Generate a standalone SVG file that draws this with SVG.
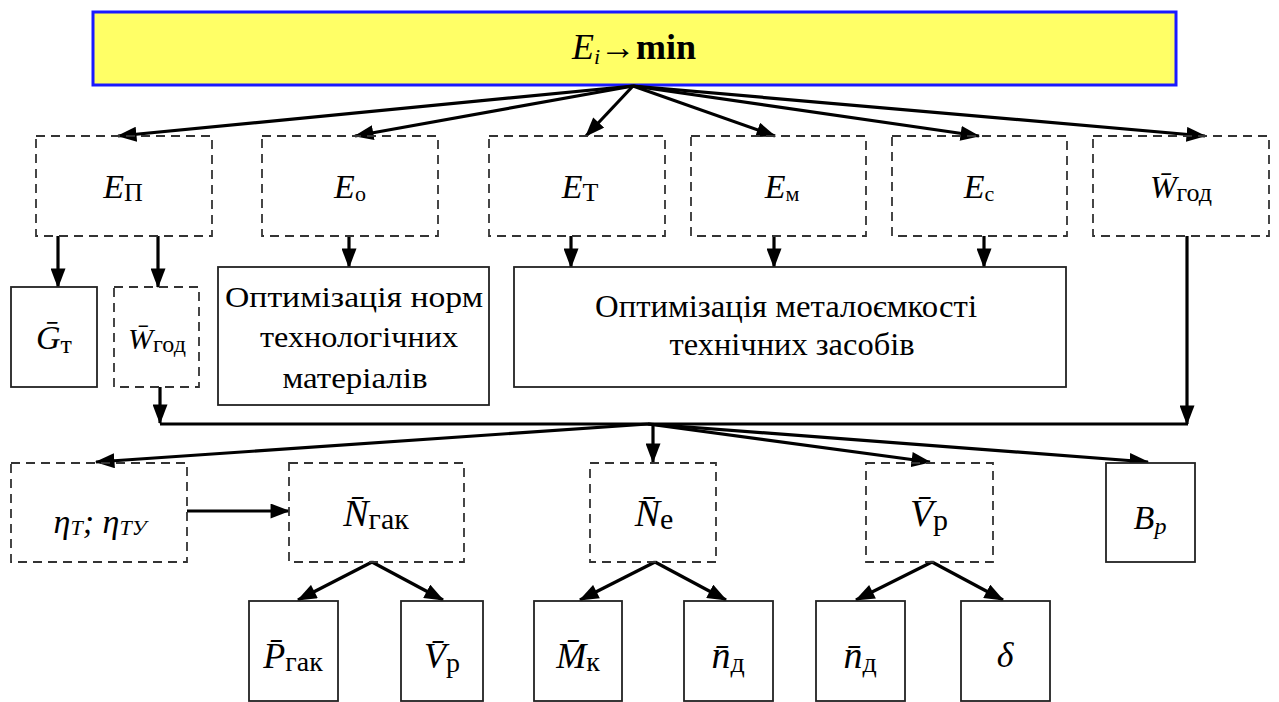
<svg xmlns="http://www.w3.org/2000/svg" width="1279" height="702" viewBox="0 0 1279 702">
<style>
.s{font-family:'Liberation Serif'}
.dash{fill:none;stroke:#333;stroke-width:1.8;stroke-dasharray:9 6}
.solid{fill:#fff;stroke:#222;stroke-width:1.8}
.c{stroke:#000;stroke-width:3.2;fill:none}
.i{font-style:italic}
.b{font-weight:bold}
</style>
<defs>
<marker id="ah" viewBox="0 0 17 13" refX="16" refY="6.5" markerWidth="20" markerHeight="15" orient="auto" markerUnits="userSpaceOnUse">
<path d="M0,0 L17,6.5 L0,13 Z" fill="#000"/>
</marker>
</defs>
<rect width="1279" height="702" fill="#fff"/>

<g id="top">
<rect x="93" y="12" width="1083" height="73" fill="#ffff66" stroke="#1a1aff" stroke-width="3"/>
<text class="s" x="634" y="59" text-anchor="middle" font-size="36"><tspan class="i">E</tspan><tspan class="i" font-size="22" dy="5">i</tspan><tspan class="b" dy="-5">→min</tspan></text>
</g>

<g id="connectors">
<line class="c" x1="633" y1="86" x2="118" y2="136" marker-end="url(#ah)"/>
<line class="c" x1="633" y1="86" x2="355" y2="136" marker-end="url(#ah)"/>
<line class="c" x1="633" y1="86" x2="586" y2="136" marker-end="url(#ah)"/>
<line class="c" x1="633" y1="86" x2="775" y2="136" marker-end="url(#ah)"/>
<line class="c" x1="633" y1="86" x2="979" y2="136" marker-end="url(#ah)"/>
<line class="c" x1="633" y1="86" x2="1205" y2="136" marker-end="url(#ah)"/>
<line class="c" x1="58" y1="236" x2="58" y2="287" marker-end="url(#ah)"/>
<line class="c" x1="158" y1="236" x2="158" y2="287" marker-end="url(#ah)"/>
<line class="c" x1="349" y1="236" x2="349" y2="267" marker-end="url(#ah)"/>
<line class="c" x1="571" y1="236" x2="571" y2="267" marker-end="url(#ah)"/>
<line class="c" x1="774" y1="236" x2="774" y2="267" marker-end="url(#ah)"/>
<line class="c" x1="984" y1="236" x2="984" y2="267" marker-end="url(#ah)"/>
<line class="c" x1="1187" y1="236" x2="1187" y2="424" marker-end="url(#ah)"/>
<line class="c" x1="160" y1="387" x2="160" y2="423" marker-end="url(#ah)"/>
<line class="c" x1="160" y1="424" x2="1188" y2="424"/>
<line class="c" x1="648" y1="424" x2="96" y2="462" marker-end="url(#ah)"/>
<line class="c" x1="653" y1="424" x2="653" y2="462" marker-end="url(#ah)"/>
<line class="c" x1="648" y1="424" x2="930" y2="462" marker-end="url(#ah)"/>
<line class="c" x1="648" y1="424" x2="1148" y2="462" marker-end="url(#ah)"/>
<line class="c" x1="187" y1="511" x2="289" y2="511" marker-end="url(#ah)"/>
<line class="c" x1="372" y1="562" x2="298" y2="600" marker-end="url(#ah)"/>
<line class="c" x1="372" y1="562" x2="443" y2="600" marker-end="url(#ah)"/>
<line class="c" x1="655" y1="562" x2="580" y2="600" marker-end="url(#ah)"/>
<line class="c" x1="655" y1="562" x2="726" y2="600" marker-end="url(#ah)"/>
<line class="c" x1="932" y1="562" x2="856" y2="600" marker-end="url(#ah)"/>
<line class="c" x1="932" y1="562" x2="1003" y2="600" marker-end="url(#ah)"/>
</g>

<g id="EP"><rect class="dash" x="36" y="136" width="176" height="100"/>
<text class="s" x="123" y="198" text-anchor="middle" font-size="34"><tspan class="i">E</tspan><tspan font-size="26" dy="3">П</tspan></text></g>
<g id="Eo"><rect class="dash" x="262" y="136" width="176" height="100"/>
<text class="s" x="350" y="198" text-anchor="middle" font-size="34"><tspan class="i">E</tspan><tspan font-size="22" dy="3">о</tspan></text></g>
<g id="ET"><rect class="dash" x="489" y="136" width="176" height="100"/>
<text class="s" x="580" y="198" text-anchor="middle" font-size="34"><tspan class="i">E</tspan><tspan font-size="26" dy="3">Т</tspan></text></g>
<g id="Em"><rect class="dash" x="691" y="136" width="175" height="100"/>
<text class="s" x="782" y="198" text-anchor="middle" font-size="34"><tspan class="i">E</tspan><tspan font-size="22" dy="3">м</tspan></text></g>
<g id="Ec"><rect class="dash" x="892" y="136" width="175" height="100"/>
<text class="s" x="979" y="198" text-anchor="middle" font-size="34"><tspan class="i">E</tspan><tspan font-size="22" dy="3">с</tspan></text></g>
<g id="Wgod"><rect class="dash" x="1093" y="136" width="176" height="100"/>
<text class="s" x="1181" y="198" text-anchor="middle" font-size="32"><tspan class="i">W̄</tspan><tspan font-size="26" dy="3">год</tspan></text></g>

<g id="Gt"><rect class="solid" x="11" y="287" width="86" height="100"/>
<text class="s" x="54" y="349" text-anchor="middle" font-size="34"><tspan class="i">Ḡ</tspan><tspan font-size="26" dy="4">т</tspan></text></g>
<g id="Wgod2"><rect class="dash" x="114" y="287" width="85" height="100"/>
<text class="s" x="157" y="349" text-anchor="middle" font-size="30"><tspan class="i">W̄</tspan><tspan font-size="24" dy="3">год</tspan></text></g>
<g id="OptNorm"><rect class="solid" x="218" y="267" width="271" height="138"/>
<text class="s" x="354" y="307" text-anchor="middle" font-size="30" textLength="258" lengthAdjust="spacingAndGlyphs">Оптимізація норм</text>
<text class="s" x="359" y="347" text-anchor="middle" font-size="30" textLength="198" lengthAdjust="spacingAndGlyphs">технологічних</text>
<text class="s" x="355" y="388" text-anchor="middle" font-size="30" textLength="145" lengthAdjust="spacingAndGlyphs">матеріалів</text></g>
<g id="OptMet"><rect class="solid" x="514" y="267" width="552" height="120"/>
<text class="s" x="786" y="317" text-anchor="middle" font-size="32" textLength="382" lengthAdjust="spacingAndGlyphs">Оптимізація металоємкості</text>
<text class="s" x="792" y="355" text-anchor="middle" font-size="32" textLength="245" lengthAdjust="spacingAndGlyphs">технічних засобів</text></g>

<g id="eta"><rect class="dash" x="11" y="463" width="176" height="99"/>
<text class="s i" x="100" y="533" text-anchor="middle" font-size="34">η<tspan font-size="22" dy="2">T</tspan><tspan dy="-2">; η</tspan><tspan font-size="22" dy="2">TУ</tspan></text></g>
<g id="Ngak"><rect class="dash" x="289" y="463" width="175" height="99"/>
<text class="s" x="376" y="526" text-anchor="middle" font-size="38"><tspan class="i">N̄</tspan><tspan font-size="30" dy="3">гак</tspan></text></g>
<g id="Ne"><rect class="dash" x="590" y="463" width="126" height="99"/>
<text class="s" x="654" y="526" text-anchor="middle" font-size="38"><tspan class="i">N̄</tspan><tspan font-size="30" dy="3">е</tspan></text></g>
<g id="Vp"><rect class="dash" x="866" y="463" width="127" height="99"/>
<text class="s" x="929" y="526" text-anchor="middle" font-size="38"><tspan class="i">V̄</tspan><tspan font-size="30" dy="4">р</tspan></text></g>
<g id="Bp"><rect class="solid" x="1106" y="463" width="89" height="99"/>
<text class="s i" x="1150" y="529" text-anchor="middle" font-size="34">B<tspan font-size="24" dy="5">p</tspan></text></g>

<g id="Pgak"><rect class="solid" x="249" y="601" width="89" height="100"/>
<text class="s" x="293" y="668" text-anchor="middle" font-size="36"><tspan class="i">P̄</tspan><tspan font-size="28" dy="3">гак</tspan></text></g>
<g id="Vp2"><rect class="solid" x="401" y="601" width="82" height="100"/>
<text class="s" x="442" y="668" text-anchor="middle" font-size="36"><tspan class="i">V̄</tspan><tspan font-size="28" dy="4">р</tspan></text></g>
<g id="Mk"><rect class="solid" x="534" y="601" width="88" height="100"/>
<text class="s" x="578" y="668" text-anchor="middle" font-size="36"><tspan class="i">M̄</tspan><tspan font-size="28" dy="3">к</tspan></text></g>
<g id="nd1"><rect class="solid" x="684" y="601" width="89" height="100"/>
<text class="s" x="728" y="668" text-anchor="middle" font-size="38"><tspan class="i">n̄</tspan><tspan font-size="28" dy="4">д</tspan></text></g>
<g id="nd2"><rect class="solid" x="816" y="601" width="89" height="100"/>
<text class="s" x="860" y="668" text-anchor="middle" font-size="38"><tspan class="i">n̄</tspan><tspan font-size="28" dy="4">д</tspan></text></g>
<g id="delta"><rect class="solid" x="961" y="601" width="89" height="100"/>
<text class="s i" x="1005" y="667" text-anchor="middle" font-size="36">δ</text></g>
</svg>
